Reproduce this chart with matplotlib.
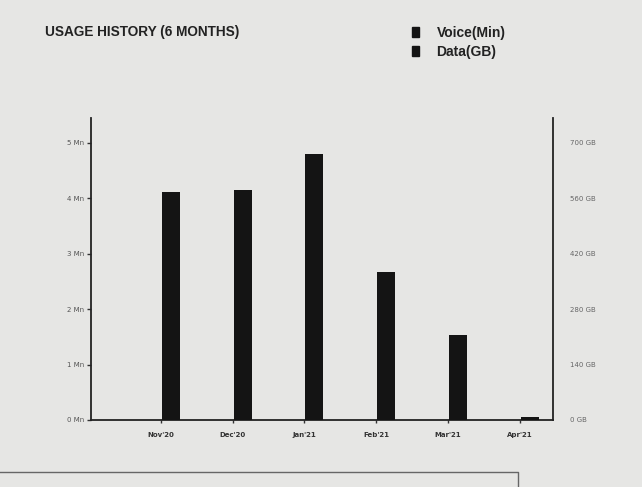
import numpy as np
import matplotlib.pyplot as plt
from matplotlib.patches import Rectangle
from matplotlib.lines import Line2D

months = ["Nov'20", "Dec'20", "Jan'21", "Feb'21", "Mar'21", "Apr'21"]
voice_mn = [4.12, 4.15, 4.80, 2.67, 1.53, 0.06]
data_gb = [0, 0, 0, 0, 0, 0]
voice_ticks = [0, 1, 2, 3, 4, 5]
voice_labels = ['0 Mn', '1 Mn', '2 Mn', '3 Mn', '4 Mn', '5 Mn']
gb_ticks = [0, 140, 280, 420, 560, 700]
gb_labels = ['0 GB', '140 GB', '280 GB', '420 GB', '560 GB', '700 GB']

bg = '#e6e6e4'
ink = '#141414'

fig = plt.figure(figsize=(6.42, 4.87), dpi=100, facecolor=bg)
ax = fig.add_axes([0.1417, 0.1376, 0.7197, 0.6201], facecolor=bg)
ax2 = ax.twinx()

x = np.arange(len(months))
ax.bar(x + 0.14, voice_mn, width=0.25, color=ink, zorder=3)
ax2.bar(x - 0.14, data_gb, width=0.25, color='#2a2a2a', zorder=3)

ax.set_xlim(-0.97, 5.46)
ax.set_ylim(0, 5.45)
ax2.set_ylim(0, 5.45 * 140)

ax.set_xticks(x)
ax.set_xticklabels(months, fontsize=5, color='#333333', fontweight='bold')
ax.set_yticks(voice_ticks)
ax.set_yticklabels(voice_labels, fontsize=5, color='#555555')
ax2.set_yticks(gb_ticks)
ax2.set_yticklabels(gb_labels, fontsize=5, color='#666666')

ax.tick_params(axis='y', length=3, width=1, color='#333333', pad=2)
ax.tick_params(axis='x', length=2, width=1, color='#333333', pad=7)
ax2.tick_params(axis='y', length=0, pad=12)

for a in (ax, ax2):
    a.spines['top'].set_visible(False)
    for s in ('left', 'right', 'bottom'):
        a.spines[s].set_color('#222222')
        a.spines[s].set_linewidth(1.3)
ax.spines['right'].set_visible(False)
ax2.spines['left'].set_visible(False)
ax2.spines['bottom'].set_visible(False)

# title and legend
fig.text(0.07, 0.935, 'USAGE HISTORY (6 MONTHS)', fontsize=9.8, fontweight='bold',
         color='#222222', family='Liberation Sans', va='center')
fig.patches.append(Rectangle((0.641, 0.925), 0.012, 0.02, transform=fig.transFigure,
                             color=ink))
fig.patches.append(Rectangle((0.641, 0.886), 0.012, 0.02, transform=fig.transFigure,
                             color=ink))
fig.text(0.68, 0.933, 'Voice(Min)', fontsize=10, fontweight='bold', color='#222222',
         family='Liberation Sans', va='center')
fig.text(0.68, 0.893, 'Data(GB)', fontsize=10, fontweight='bold', color='#222222',
         family='Liberation Sans', va='center')

# box edge at the bottom of the card
fig.lines.append(Line2D([0.0, 0.807, 0.807], [0.03, 0.03, 0.0], transform=fig.transFigure,
                        color='#666666', linewidth=1))

fig.savefig('out.png', dpi=100, facecolor=bg)
